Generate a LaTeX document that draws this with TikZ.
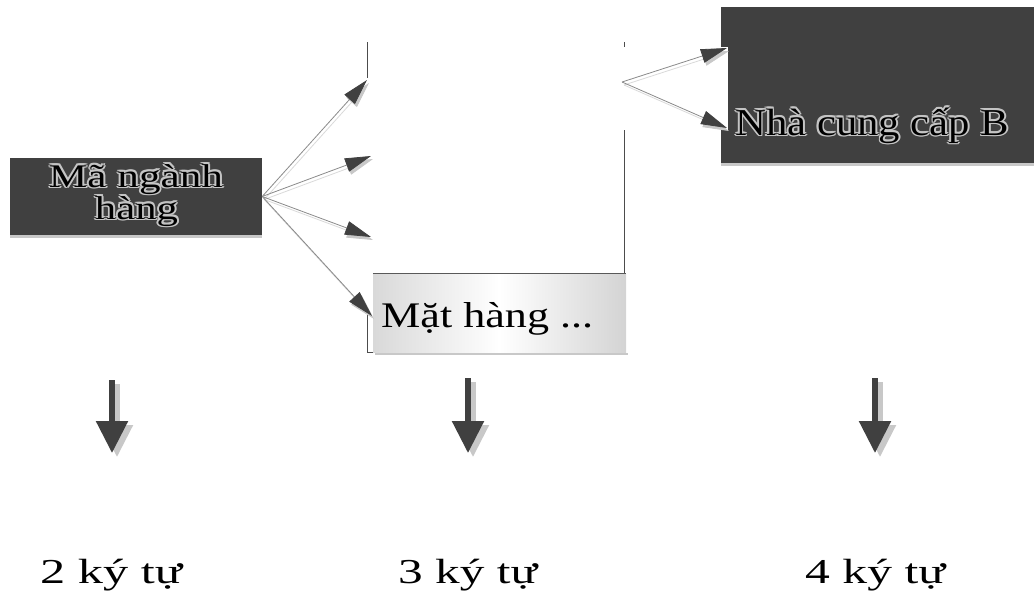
\documentclass[tikz,border=0pt]{standalone}
\usepackage{fontspec}
\setmainfont{Liberation Serif}
\usepackage[copies]{contour}
\usetikzlibrary{arrows.meta,shadings}
\definecolor{adark}{HTML}{404040}
\definecolor{lgray}{HTML}{8A8A8A}
\definecolor{shgray}{HTML}{C8C8C8}
\definecolor{halo}{HTML}{C4C4C4}
\contourlength{1.5pt}
\contournumber{8}
\newcommand\wfit[2]{\resizebox{#1}{\height}{#2}}
\begin{document}
\begin{tikzpicture}[x=1pt,y=-1pt,
  darkbox/.style={fill=adark, draw=none, inner sep=0},
  fanline/.style={draw=lgray, line width=0.8pt, -{Triangle[length=26pt,width=14pt,color=adark]}},
  fanshadow/.style={draw=shgray!70, line width=0.8pt, -{Triangle[length=26pt,width=14pt,color=shgray]}},
  bigarrow/.style={draw=adark, line width=5.5pt, -{Triangle[length=32pt,width=31pt,color=adark]}},
  bigshadow/.style={draw=shgray, line width=5.5pt, -{Triangle[length=32pt,width=31pt,color=shgray]}},
  frameline/.style={draw=black!70, line width=0.8pt},
  txt/.style={inner sep=0},
]
\useasboundingbox (0,0) rectangle (1034,597);
% ---- left box
\fill[shgray] (10,235) rectangle (262,238);
\node[darkbox, minimum width=252pt, minimum height=77pt] (mnh) at (136,196.5) {};
\node[txt, anchor=base, font=\fontsize{33}{33}\selectfont] (mnh1) at (136,187) {\wfit{174pt}{\contour{halo}{Mã ngành}}};
\node[txt, anchor=base, font=\fontsize{33}{33}\selectfont] (mnh2) at (136.5,219) {\wfit{83pt}{\contour{halo}{hàng}}};
% ---- right box
\fill[shgray] (721,163) rectangle (1034,166);
\node[darkbox, minimum width=313pt, minimum height=156pt] (ncc) at (877.5,85) {};
\fill[white] (721,47) rectangle (728,130);
\node[txt, anchor=base west, font=\fontsize{38}{38}\selectfont] (ncct) at (735,135) {\wfit{274pt}{\contour{halo}{Nhà cung cấp B}}};
% ---- frame lines
\draw[frameline] (367,42) -- (367,78);
\draw[frameline] (367,310) -- (367,352.5) -- (626,352.5);
\draw[frameline] (624,42) -- (624,47);
\draw[frameline] (624,130) -- (624,352.5);
% ---- middle box
\fill[shgray] (375,352.5) rectangle (628,355);
\node[inner sep=0, minimum width=253pt, minimum height=78pt, left color=black!15, right color=black!17, middle color=white] (mh) at (499.5,313) {};
\draw[draw=black!65, line width=0.9pt] (mh.north west) -- (mh.north east);
\node[txt, anchor=base west, font=\fontsize{36}{36}\selectfont] (mht) at (381,327) {\wfit{212pt}{Mặt hàng ...}};
% ---- left fan
\coordinate (t1) at (367,80);
\coordinate (t2) at (371,156);
\coordinate (t3) at (371,237);
\coordinate (t4) at (372,316);
\foreach \t in {t1,t2,t3,t4}{
  \draw[fanshadow] ([shift={(2,3)}]mnh.east) -- ([shift={(2,3)}]\t);
}
\foreach \t in {t1,t2,t3,t4}{
  \draw[fanline] (mnh.east) -- (\t);
}
% ---- right fan
\coordinate (rf) at (622,82);
\coordinate (r1) at (727,48);
\coordinate (r2) at (727,128);
\foreach \t in {r1,r2}{
  \draw[fanshadow] ([shift={(2,3)}]rf) -- ([shift={(2,3)}]\t);
}
\foreach \t in {r1,r2}{
  \draw[fanline] (rf) -- (\t);
}
% ---- bottom arrows
\coordinate (b1s) at (112,380);
\coordinate (b1e) at (112,453);
\coordinate (b2s) at (468,378);
\coordinate (b2e) at (468,453);
\coordinate (b3s) at (875,378);
\coordinate (b3e) at (875,453);
\foreach \s/\e in {b1s/b1e,b2s/b2e,b3s/b3e}{
  \draw[bigshadow] ([shift={(5,4)}]\s) -- ([shift={(5,4)}]\e);
}
\foreach \s/\e in {b1s/b1e,b2s/b2e,b3s/b3e}{
  \draw[bigarrow] (\s) -- (\e);
}
% ---- labels
\node[txt, anchor=base west, font=\fontsize{35}{35}\selectfont] (l1) at (40,583) {\wfit{142pt}{2 ký tự}};
\node[txt, anchor=base west, font=\fontsize{35}{35}\selectfont] (l2) at (398,583) {\wfit{139pt}{3 ký tự}};
\node[txt, anchor=base west, font=\fontsize{35}{35}\selectfont] (l3) at (805,583) {\wfit{140pt}{4 ký tự}};
\end{tikzpicture}
\end{document}
